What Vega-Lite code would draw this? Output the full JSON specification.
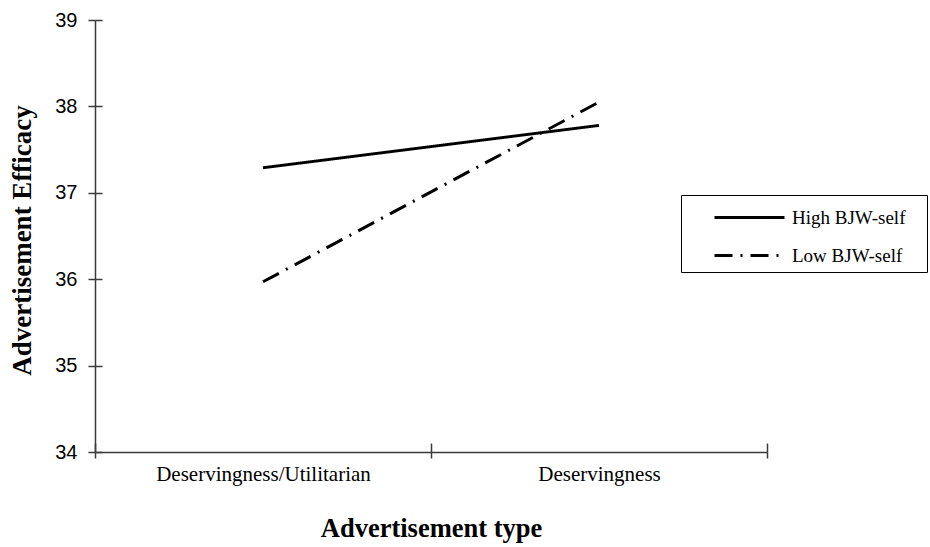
{
  "$schema": "https://vega.github.io/schema/vega-lite/v6.json",
  "autosize": "none",
  "width": 672,
  "height": 432,
  "padding": {"left": 95, "top": 20, "right": 163, "bottom": 95},
  "background": "white",
  "data": {
    "values": [
      {"type": "Deservingness/Utilitarian", "group": "High BJW-self", "efficacy": 37.29},
      {"type": "Deservingness", "group": "High BJW-self", "efficacy": 37.78},
      {"type": "Deservingness/Utilitarian", "group": "Low BJW-self", "efficacy": 35.97},
      {"type": "Deservingness", "group": "Low BJW-self", "efficacy": 38.05}
    ]
  },
  "config": {
    "view": {"stroke": null},
    "axis": {"grid": false, "domainColor": "#3a3a3a", "tickColor": "#3a3a3a", "domainWidth": 1.5, "tickWidth": 1.5, "labelColor": "black", "titleColor": "black"}
  },
  "layer": [
    {
      "mark": {"type": "line", "strokeWidth": 3, "color": "black"},
      "encoding": {
        "x": {
          "field": "type", "type": "nominal",
          "sort": ["Deservingness/Utilitarian", "Deservingness"],
          "scale": {"type": "band", "paddingInner": 0, "paddingOuter": 0},
          "axis": {
            "orient": "bottom", "tickBand": "extent", "tickSize": 6, "labelAngle": 0,
            "labelFont": "Liberation Serif", "labelFontSize": 21, "labelPadding": 5, "labelLimit": 0,
            "title": "Advertisement type", "titleFont": "Liberation Serif", "titleFontSize": 26.5,
            "titleFontWeight": "bold", "titleBaseline": "middle", "titleY": 76
          }
        },
        "y": {
          "field": "efficacy", "type": "quantitative",
          "scale": {"domain": [34, 39], "nice": false, "zero": false},
          "axis": {
            "orient": "left", "values": [34, 35, 36, 37, 38, 39], "tickSize": 7,
            "labelFont": "Liberation Sans", "labelFontSize": 20, "labelPadding": 11,
            "title": "Advertisement Efficacy", "titleFont": "Liberation Serif", "titleFontSize": 27,
            "titleFontWeight": "bold", "titleX": -73, "titleY": 220, "titleBaseline": "middle"
          }
        },
        "strokeDash": {
          "field": "group", "type": "nominal",
          "scale": {"domain": ["High BJW-self", "Low BJW-self"], "range": [[1, 0], [18, 8, 2, 8]]},
          "legend": {
            "orient": "none", "legendX": 586, "legendY": 175,
            "title": "M", "titleOrient": "right", "titleColor": "white", "titleFontSize": 16, "titlePadding": 2,
            "strokeColor": "black", "fillColor": "white", "padding": 6,
            "symbolType": "M-2.333,0H2.333", "symbolSize": 900, "symbolStrokeWidth": 3,
            "symbolStrokeColor": "black", "symbolOffset": 46, "labelOffset": 26,
            "labelFont": "Liberation Serif", "labelFontSize": 19, "labelColor": "black",
            "rowPadding": 11
          }
        }
      }
    },
    {
      "mark": {"type": "point", "opacity": 0},
      "encoding": {
        "x": {
          "field": "type", "type": "nominal",
          "sort": ["Deservingness/Utilitarian", "Deservingness"],
          "axis": {"orient": "bottom", "tickBand": "extent", "tickSize": -9, "labels": false, "domain": false, "title": null}
        },
        "y": {
          "field": "efficacy", "type": "quantitative",
          "axis": {"orient": "left", "values": [34, 35, 36, 37, 38, 39], "tickSize": -7, "labels": false, "domain": false, "title": null}
        }
      }
    }
  ],
  "resolve": {"axis": {"x": "independent", "y": "independent"}}
}
